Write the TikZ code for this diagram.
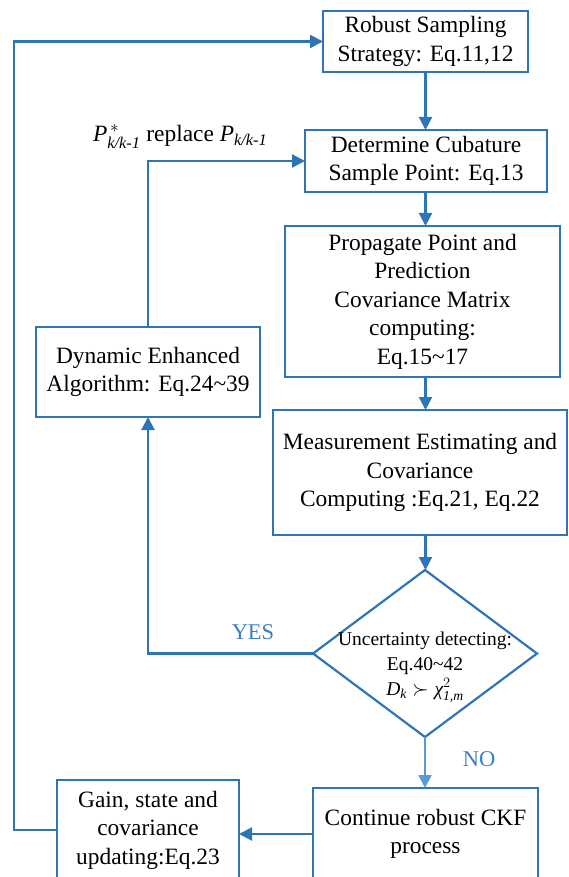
\documentclass[tikz,border=0pt]{standalone}
\usepackage{amsmath}
\usepackage{fontspec}
\setmainfont{Liberation Serif}
\usetikzlibrary{shapes.geometric,arrows.meta}
\definecolor{flowblue}{HTML}{2E75B6}
\definecolor{lightblue}{HTML}{5B9BD5}
\definecolor{labelblue}{HTML}{3C7FC4}
\begin{document}
\begin{tikzpicture}[x=1pt,y=-1pt,
  every node/.style={inner sep=0pt, outer sep=0pt},
  stepbox/.style={draw=flowblue, line width=2.2pt, fill=white, align=center,
    font=\fontsize{23.4}{28.5}\selectfont},
  arr/.style={draw=flowblue, line width=2.2pt, -{Triangle[length=13pt,width=13pt]}},
  arrlight/.style={draw=lightblue, line width=2.2pt, -{Triangle[length=13pt,width=13pt]}},
  answer/.style={text=labelblue, font=\fontsize{22.5}{26}\selectfont}]
\useasboundingbox (0,0) rectangle (569,877);
\clip (0,0) rectangle (569,877);

% process boxes
\node[stepbox, minimum width=205pt, minimum height=61pt] (b1) at (425.5,41.5)
  {Robust Sampling\\Strategy: Eq.11,12};
\node[stepbox, minimum width=242pt, minimum height=62pt] (b2) at (426,161)
  {Determine Cubature\\Sample Point: Eq.13};
\node[stepbox, minimum width=275pt, minimum height=151pt] (b3) at (422.5,301.5)
  {Propagate Point and\\Prediction\\Covariance Matrix\\computing:\\Eq.15\textasciitilde17};
\node[stepbox, minimum width=294pt, minimum height=125pt] (b4) at (420,472.5)
  {Measurement Estimating and\\Covariance\\Computing :Eq.21, Eq.22};
\node[stepbox, minimum width=224pt, minimum height=90pt] (dyn) at (148,372)
  {Dynamic Enhanced\\Algorithm: Eq.24\textasciitilde39};
\node[stepbox, minimum width=182pt, minimum height=100pt] (gain) at (148,830)
  {Gain, state and\\covariance\\updating:Eq.23};
\node[stepbox, minimum width=225pt, minimum height=92pt] (cont) at (425.5,834)
  {Continue robust CKF\\process};

% decision
\node[draw=flowblue, line width=2.2pt, diamond, minimum width=224pt,
  minimum height=167pt] (dia) at (425,653.5) {};
\node[align=center, font=\fontsize{19.5}{25}\selectfont] (diatext) at (425,667)
  {Uncertainty detecting:\\Eq.40\textasciitilde42\\
   $\textit{D}_{\textit{k}}\succ\textit{χ}^{2}_{\textit{1,m}}$};

% loop-back corner
\coordinate (loop) at (14,42);

% connectors
\draw[arr] (b1.south) -- (b1.south |- b2.north);
\draw[arr] (b2.south -| b1.south) -- (b1.south |- b3.north);
\draw[arr] (b3.south -| b1.south) -- (b1.south |- b4.north);
\draw[arr] (b4.south -| b1.south) -- (b1.south |- dia.north);
\draw[arr] (dia.west) -| (dyn.south);
\draw[arr] (dyn.north) |- (b2.west);
\draw[arrlight] (dia.south) -- (dia.south |- cont.north);
\draw[arr] (cont.west) -- (cont.west -| gain.east);
\draw[arr] (gain.west) -- (gain.west -| loop) |- (b1.west);

% labels
\node[answer] (yes) at (253,632) {YES};
\node[answer] (no) at (479,759) {NO};
\node[anchor=base west, font=\fontsize{23.4}{28}\selectfont] (repl) at (93,142)
  {$\textit{P}^{\,*}_{\textit{k/k-1}}$ replace $\textit{P}_{\textit{k/k-1}}$};
\end{tikzpicture}
\end{document}
